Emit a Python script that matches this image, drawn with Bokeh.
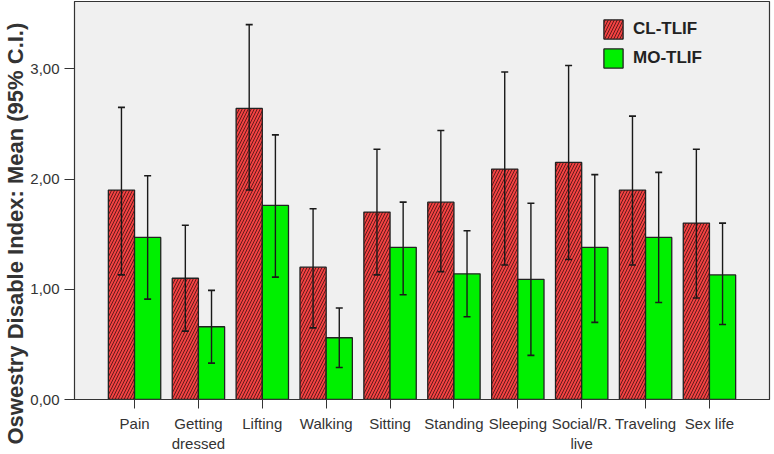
from bokeh.plotting import figure
from bokeh.models import (ColumnDataSource, Whisker, TeeHead, FixedTicker, Legend,
                          LegendItem, Range1d, Title)
from bokeh.embed import file_html
from bokeh.resources import INLINE

categories = ["Pain", "Getting\ndressed", "Lifting", "Walking", "Sitting",
              "Standing", "Sleeping", "Social/R.\nlive", "Traveling", "Sex life"]
cl_mean = [1.90, 1.10, 2.64, 1.20, 1.70, 1.79, 2.09, 2.15, 1.90, 1.60]
cl_low = [1.13, 0.62, 1.90, 0.65, 1.13, 1.16, 1.22, 1.27, 1.22, 0.92]
cl_high = [2.65, 1.58, 3.40, 1.73, 2.27, 2.44, 2.97, 3.03, 2.57, 2.27]
mo_mean = [1.47, 0.66, 1.76, 0.56, 1.38, 1.14, 1.09, 1.38, 1.47, 1.13]
mo_low = [0.91, 0.33, 1.11, 0.29, 0.95, 0.75, 0.40, 0.70, 0.88, 0.68]
mo_high = [2.03, 0.99, 2.40, 0.83, 1.79, 1.53, 1.78, 2.04, 2.06, 1.60]
y_ticks = [0, 1, 2, 3]
y_tick_labels = ["0,00", "1,00", "2,00", "3,00"]
series_names = ["CL-TLIF", "MO-TLIF"]

BAR_W = 0.41
idx = list(range(len(categories)))
cl_src = ColumnDataSource(dict(x=[i - BAR_W / 2 for i in idx], top=cl_mean,
                               lo=cl_low, hi=cl_high))
mo_src = ColumnDataSource(dict(x=[i + BAR_W / 2 for i in idx], top=mo_mean,
                               lo=mo_low, hi=mo_high))

p = figure(frame_width=695, frame_height=398, output_backend="svg",
           toolbar_location=None, x_range=Range1d(-0.94, 9.94),
           y_range=Range1d(0, 3.61),
           min_border_left=69, min_border_right=2, min_border_top=1,
           min_border_bottom=45)
p.background_fill_color = "#f0f0f0"
p.border_fill_color = "white"
p.outline_line_color = "#333333"
p.outline_line_width = 1.2
p.xgrid.visible = False
p.ygrid.visible = False

cl = p.vbar(x="x", top="top", bottom=0, width=BAR_W, source=cl_src,
            fill_color="#f24242", line_color="#222222", line_width=1.3,
            hatch_pattern="right_diagonal_line", hatch_color="#000000",
            hatch_alpha=0.75, hatch_weight=0.8, hatch_scale=6)
mo = p.vbar(x="x", top="top", bottom=0, width=BAR_W, source=mo_src,
            fill_color="#00f000", line_color="#222222", line_width=1.3)

for src in (cl_src, mo_src):
    w = Whisker(base="x", upper="hi", lower="lo", source=src, dimension="height",
                line_color="#1a1a1a", line_width=1.4, level="overlay",
                upper_head=TeeHead(size=7, line_color="#1a1a1a", line_width=1.6),
                lower_head=TeeHead(size=7, line_color="#1a1a1a", line_width=1.6))
    p.add_layout(w)

# axes
xa = p.xaxis[0]
xa.ticker = FixedTicker(ticks=idx)
xa.major_label_overrides = {i: c for i, c in zip(idx, categories)}
xa.minor_tick_line_color = None
xa.major_tick_in = 0
xa.major_tick_out = 9
xa.major_tick_line_color = "#333333"
xa.axis_line_color = "#333333"
xa.major_label_standoff = 6
xa.major_label_text_font = "Liberation Sans"
xa.major_label_text_font_size = "15px"
xa.major_label_text_color = "#333333"

ya = p.yaxis[0]
ya.ticker = FixedTicker(ticks=y_ticks)
ya.major_label_overrides = {t: l for t, l in zip(y_ticks, y_tick_labels)}
ya.minor_tick_line_color = None
ya.major_tick_in = 0
ya.major_tick_out = 10
ya.major_tick_line_color = "#333333"
ya.axis_line_color = "#333333"
ya.major_label_standoff = 5
ya.major_label_text_font = "Liberation Sans"
ya.major_label_text_font_size = "15px"
ya.major_label_text_color = "#333333"

ytitle = Title(text="Oswestry Disable Index: Mean (95% C.I.)", align="left",
               offset=-45, text_font="Liberation Sans", text_font_style="bold",
               text_font_size="22px", text_color="#333333", standoff=0)
p.add_layout(ytitle, "left")

legend = Legend(items=[LegendItem(label=series_names[0], renderers=[cl]),
                       LegendItem(label=series_names[1], renderers=[mo])],
                location=(527, 329), orientation="vertical",
                glyph_width=24, glyph_height=24, spacing=5, padding=0, margin=0,
                label_standoff=8, label_text_font="Liberation Sans",
                label_text_font_style="bold", label_text_font_size="17px",
                label_text_color="#222222", background_fill_alpha=0,
                border_line_alpha=0)
p.add_layout(legend, "center")

open("out.html", "w").write(file_html(p, INLINE))
